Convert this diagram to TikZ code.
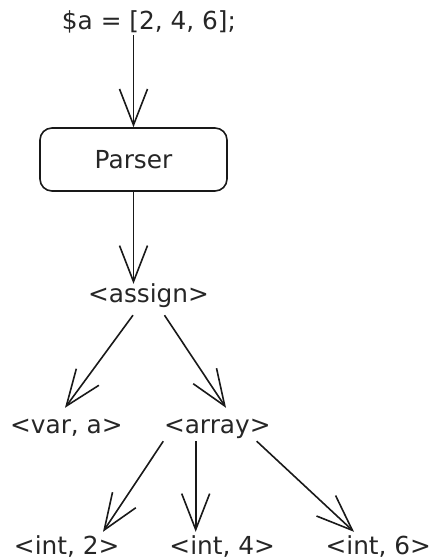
\documentclass[tikz,border=0pt]{standalone}
\usepackage{fontspec}
\setmainfont{DejaVu Sans}
\usetikzlibrary{arrows.meta}

\begin{document}
\begin{tikzpicture}[x=1pt, y=-1pt]
\tikzset{mot/.style={inner sep=0pt, text=black!85, text height=18pt, text depth=6pt, font=\fontsize{24.8}{30}\selectfont},
  boite/.style={draw=black!90, rounded corners=12pt, line width=1.6pt, minimum width=187pt, minimum height=63pt, inner sep=0pt, text=black!85, text height=18pt, text depth=0pt, font=\fontsize{24.8}{30}\selectfont},
  fleche/.style={draw=black!90, line width=1.6pt, -{Straight Barb[length=36pt, width=28pt, line width=1.6pt]}}}
\useasboundingbox (0, 0) rectangle (430, 560);
\node[mot, anchor=base] (code) at (149, 29) {\$a = [2, 4, 6];};
\node[boite] (parser) at (133.5, 159.5) {Parser};
\node[mot, anchor=base] (assign) at (148.5, 302) {<assign>};
\node[mot, anchor=base] (var) at (66.4, 433) {<var, a>};
\node[mot, anchor=base] (array) at (217.3, 433) {<array>};
\node[mot, anchor=base] (int2) at (66.7, 554) {<int, 2>};
\node[mot, anchor=base] (int4) at (222.2, 554) {<int, 4>};
\node[mot, anchor=base] (int6) at (378.3, 554) {<int, 6>};
\draw[fleche] ([xshift=-15.5pt]code.south) -- (parser.north);
\draw[fleche] (parser.south) -- ([xshift=-15pt]assign.north);
\draw[fleche] ([xshift=-15.5pt, yshift=-7pt]assign.south) -- ([xshift=-1.4pt, yshift=7pt]var.north);
\draw[fleche] ([xshift=16pt, yshift=-7pt]assign.south) -- ([xshift=8.7pt, yshift=7pt]array.north);
\draw[fleche] ([xshift=-54pt, yshift=-2pt]array.south) -- ([xshift=36.3pt, yshift=4pt]int2.north);
\draw[fleche] ([xshift=-21.6pt, yshift=-2pt]array.south) -- ([xshift=-26.5pt, yshift=4pt]int4.north);
\draw[fleche] ([xshift=39.4pt, yshift=-2pt]array.south) -- ([xshift=-24.3pt, yshift=4pt]int6.north);
\end{tikzpicture}
\end{document}
